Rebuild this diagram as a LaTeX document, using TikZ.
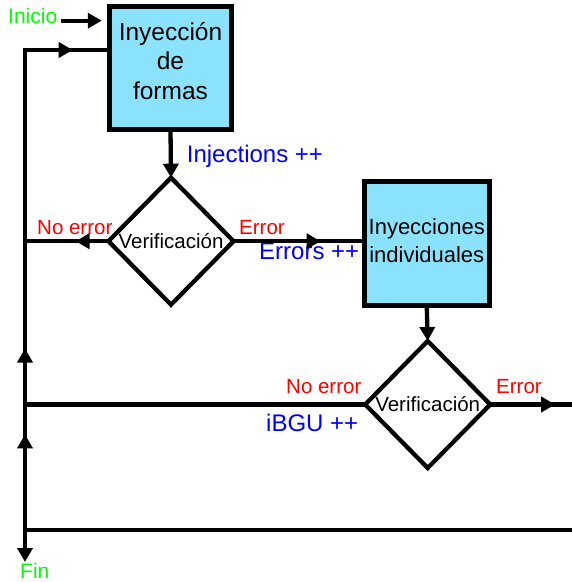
\documentclass[tikz,border=0pt]{standalone}
\usepackage{fontspec}
\setmainfont{Liberation Sans}
\usetikzlibrary{arrows.meta,shapes.geometric,decorations.markings}
\definecolor{boxcyan}{RGB}{138,226,252}
\definecolor{lblgreen}{RGB}{0,255,0}
\definecolor{lblred}{RGB}{255,0,0}
\definecolor{lblblue}{RGB}{0,0,255}
\newcommand{\fsz}[1]{\fontsize{#1bp}{1.2\dimexpr#1bp\relax}\selectfont}
% invisible depth that lifts a block of text inside its box
\newcommand{\lift}[1]{\rule[-#1]{0pt}{0pt}}
\begin{document}
\begin{tikzpicture}[x=1bp,y=-1bp,
  >={Triangle[length=14bp,width=15bp]},
  flow/.style={line width=4.3bp},
  procbox/.style={draw,line width=5bp,fill=boxcyan,inner sep=0pt,outer sep=0pt,align=center},
  decision/.style={diamond,draw,line width=4.3bp,inner sep=0pt,outer sep=0pt,
    minimum width=125bp,minimum height=127bp,font=\fsz{20.5}},
  midarrow/.style={postaction={decorate},
    decoration={markings,mark=at position #1 with {\arrow{>}}}},
  lbl/.style={anchor=base west,inner sep=0pt},
  startend/.style={lbl,text=lblgreen,font=\fsz{21}},
  branch/.style={lbl,text=lblred,font=\fsz{20.5}},
  counter/.style={lbl,text=lblblue,font=\fsz{24}},
]
\useasboundingbox (0,0) rectangle (572,582);

% process blocks and decisions
\node[procbox,minimum width=122.5bp,minimum height=122.5bp,
      font=\fontsize{24.5bp}{29.5bp}\selectfont] (b1) at (170.5,68.2)
      {Inyección\\de\\formas\lift{15bp}};
\node[decision] (d1) at (171,241.2) {Verificación};
\node[procbox,minimum width=124.5bp,minimum height=123.5bp,
      font=\fontsize{22bp}{28bp}\selectfont] (b2) at (426.75,243.75)
      {Inyecciones\\individuales\lift{6bp}};
\node[decision] (d2) at (427.7,404.5) {Verificación};

% labels
\node[startend,inner xsep=4bp] (inicio) at (4,23.3) {Inicio};
\node[startend] (fin) at (20,578) {Fin};
\node[counter] (inj) at (186.7,162.7) {Injections ++};
\node[counter] (err) at (259,259.5) {Errors ++};
\node[counter] (ibgu) at (266,431.7) {iBGU ++};
\node[branch] (ne1) at (37,234) {No error};
\node[branch] (e1) at (239,234) {Error};
\node[branch] (ne2) at (286,393) {No error};
\node[branch] (e2) at (496,393) {Error};

% loop rail on the left, bottom return and exits
\coordinate (loopTop) at (25,50);
\coordinate (loopBot) at (25,530);
\coordinate (railEnd) at (572,530);
\coordinate (finTip) at (25,562);
\coordinate (exitRight) at (572,404.5);

% connectors
\draw[flow,->,shorten >=7.5bp] (inicio.mid east) -- (inicio.mid east -| b1.west);
\draw[flow,->] (b1.south) -- (d1.north);
\draw[flow,midarrow=87bp] (d1.east) -- (d1.east -| b2.west);
\draw[flow,midarrow=33bp] (d1.west) -- (d1.west -| loopTop);
\draw[flow,->] (b2.south) -- (d2.north);
\draw[flow] (d2.west) -- (d2.west -| loopTop);
\draw[flow,midarrow=65bp] (d2.east) -- (exitRight);
\draw[flow] (railEnd) -- (loopBot);
\draw[flow,line join=miter,
  postaction={decorate},
  decoration={markings,
    mark=at position 95.6bp with {\arrow{>}},
    mark=at position 181.5bp with {\arrow{>}},
    mark=at position 527.7bp with {\arrow{>}}}]
  (loopBot) -- (loopTop) -- (loopTop -| b1.west);
\draw[flow,->] (loopBot) -- (finTip);
\end{tikzpicture}
\end{document}
